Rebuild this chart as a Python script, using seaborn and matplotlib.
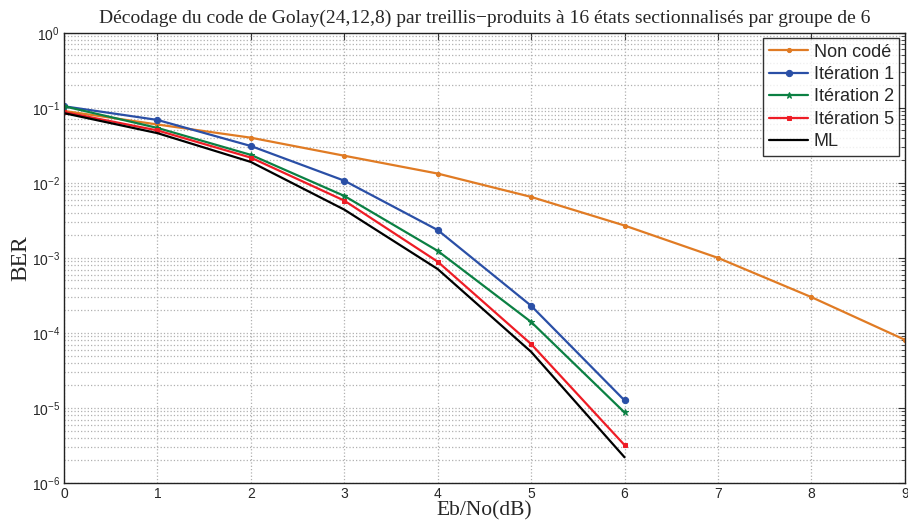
import numpy as np
import pandas as pd
import seaborn as sns
import matplotlib.pyplot as plt
from matplotlib.ticker import LogLocator, NullFormatter

# valeurs
ebno = [0, 1, 2, 3, 4, 5, 6, 7, 8, 9]
ebno_it = [0, 1, 2, 3, 4, 5, 6]

ber_non_code = [0.091, 0.060, 0.040, 0.023, 0.0133, 0.0065, 0.0027, 0.00100, 0.00030, 0.000081]
ber_it1 = [0.105, 0.069, 0.031, 0.0107, 0.00235, 0.00023, 0.0000126]
ber_it2 = [0.105, 0.054, 0.0236, 0.0067, 0.00124, 0.00014, 0.0000087]
ber_it5 = [0.088, 0.050, 0.0217, 0.0058, 0.00089, 0.000071, 0.0000032]
ber_ml = [0.085, 0.046, 0.019, 0.0044, 0.00071, 0.000056, 0.0000022]

series = [
    ('Non codé', ebno, ber_non_code, '#E07B24', '.', 6),
    ('Itération 1', ebno_it, ber_it1, '#2A4FA6', 'o', 4.5),
    ('Itération 2', ebno_it, ber_it2, '#0B8043', '*', 5),
    ('Itération 5', ebno_it, ber_it5, '#EE1C25', 's', 3.5),
    ('ML', ebno_it, ber_ml, 'black', None, 0),
]

sns.set_style("white")
plt.rcParams['font.family'] = ['Liberation Sans', 'DejaVu Sans']
plt.rcParams['xtick.direction'] = 'in'
plt.rcParams['ytick.direction'] = 'in'

f = plt.figure(figsize=(9.08, 5.21), dpi=100)
ax1 = f.add_axes([0.0705, 0.073, 0.926, 0.864])

for nom, x, y, c, m, ms in series:
    df = pd.DataFrame({'x': x, 'y': y})
    sns.lineplot(data=df, x='x', y='y', color=c, marker=m, markersize=ms,
                 markeredgecolor=c, linewidth=1.6, label=nom, ax=ax1)

ax1.set_yscale('log')
ax1.set(xlim=(0, 9), ylim=(1e-6, 1))
ax1.set_xticks(range(10))
ax1.yaxis.set_major_locator(LogLocator(base=10, numticks=10))
ax1.yaxis.set_minor_locator(LogLocator(base=10, subs=np.arange(2, 10), numticks=10))
ax1.yaxis.set_minor_formatter(NullFormatter())
ax1.grid(which='major', color='#b0b0b0', linestyle=':', linewidth=0.9)
ax1.grid(which='minor', axis='y', color='#b0b0b0', linestyle=':', linewidth=0.9)
ax1.tick_params(which='both', top=True, right=True, labelsize=10, color='#333333')
ax1.tick_params(which='major', length=5, pad=3)
ax1.tick_params(which='minor', length=3)
for s in ax1.spines.values():
    s.set_color('#222222')
    s.set_linewidth(1.0)

ax1.set_xlabel('Eb/No(dB)', family='Liberation Serif', fontsize=15.5, labelpad=0)
ax1.set_ylabel('BER', family='Liberation Serif', fontsize=17, labelpad=0)
ax1.set_title('Décodage du code de Golay(24,12,8) par treillis\u2212produits à 16 états sectionnalisés par groupe de 6',
              family='Liberation Serif', fontsize=14, pad=7)

leg = ax1.legend(loc='upper right', fontsize=13, frameon=True, fancybox=False,
                 borderpad=0.3, labelspacing=0.3, handlelength=2.2, handletextpad=0.3,
                 borderaxespad=0.3)
leg.get_frame().set_edgecolor('black')
leg.get_frame().set_linewidth(1.0)

f.savefig('out.png', dpi=100)
